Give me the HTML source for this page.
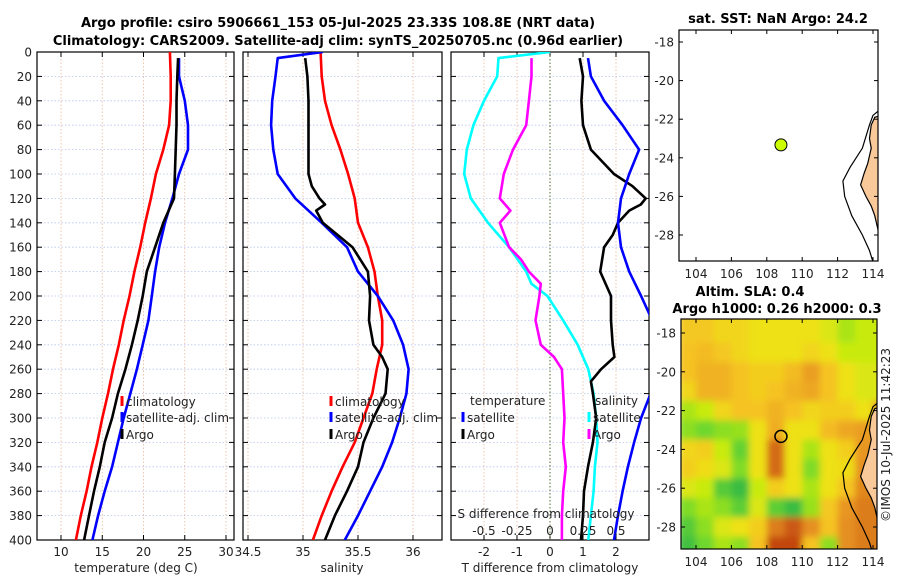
<!DOCTYPE html>
<html><head><meta charset="utf-8"><style>
html,body{margin:0;padding:0;background:#fff;}
svg{display:block;font-family:"DejaVu Sans","Liberation Sans",sans-serif;}
</style></head><body>
<svg id="fig" width="900" height="580" viewBox="0 0 900 580" xmlns="http://www.w3.org/2000/svg">
<defs>
<clipPath id="c1"><rect x="37" y="52" width="197" height="488"/></clipPath>
<clipPath id="c2"><rect x="243" y="52" width="199" height="488"/></clipPath>
<clipPath id="c3"><rect x="451" y="52" width="198" height="488"/></clipPath>
<clipPath id="cm1"><rect x="679" y="30" width="199" height="231"/></clipPath>
<clipPath id="cm2"><rect x="681" y="319" width="196" height="230"/></clipPath>
<filter id="blur" x="-10%" y="-10%" width="120%" height="120%"><feGaussianBlur stdDeviation="3.5"/></filter>
</defs>
<text x="338" y="27" text-anchor="middle" font-size="13" font-weight="bold">Argo profile: csiro 5906661_153 05-Jul-2025 23.33S 108.8E (NRT data)</text>
<text x="338" y="45" text-anchor="middle" font-size="13" font-weight="bold">Climatology: CARS2009. Satellite-adj clim: synTS_20250705.nc (0.96d earlier)</text>
<g id="p1"></g>
<g id="p2"></g>
<g id="p3"></g>
<g id="m1"></g>
<g id="m2"></g>
<text x="890" y="435" text-anchor="middle" font-size="12" fill="#222" transform="rotate(-90 890 435)">©IMOS 10-Jul-2025 11:42:23</text>
</svg>
<script>
// ---------- data ----------
const depthTicks = [0,20,40,60,80,100,120,140,160,180,200,220,240,260,280,300,320,340,360,380,400];
const tTicks = [10,15,20,25,30];
const sTicks = [34.5,35,35.5,36];
const tdTicks = [-2,-1,0,1,2];
const sdTicks = [-0.5,-0.25,0,0.25,0.5];
const sdTickLabels = ["-0.5","-0.25","0","0.25","0.5"];

const climTDepth = [0,20,40,60,80,100,120,140,160,180,200,220,240,260,280,300,320,340,360,380,400];
const climT = [23.2,23.3,23.3,23.1,22.4,21.5,20.9,20.2,19.6,18.9,18.3,17.6,17.0,16.3,15.7,15.0,14.4,13.7,13.1,12.4,11.8];
const satTDepth = [5,20,40,60,80,100,120,140,160,180,200,220,240,260,280,300,320,340,360,380,400];
const satT = [24.3,24.3,25.0,25.4,25.4,24.3,23.5,22.6,21.9,21.4,21.0,20.6,19.9,19.2,18.4,17.6,16.9,16.2,15.3,14.5,13.8];
const argoTDepth = [5,20,40,60,80,100,120,140,160,180,200,220,240,260,280,300,320,340,360,380,400];
const argoT = [24.2,24.1,24.0,24.0,23.9,23.8,23.7,22.4,21.4,20.4,19.9,19.3,18.6,17.8,16.9,16.2,15.3,14.7,14.0,13.4,12.8];

const climSDepth = [0,20,40,60,80,100,120,140,160,180,200,220,240,260,280,300,320,340,360,380,400];
const climS = [35.16,35.17,35.2,35.26,35.34,35.41,35.47,35.5,35.59,35.65,35.68,35.72,35.72,35.67,35.63,35.55,35.47,35.36,35.26,35.17,35.09];
const satSDepth = [0,5,20,40,60,80,100,120,140,160,180,200,220,240,260,280,300,320,340,360,380,400];
const satS = [35.18,34.77,34.75,34.72,34.71,34.73,34.77,34.93,35.17,35.4,35.5,35.68,35.82,35.91,35.96,35.94,35.88,35.81,35.72,35.61,35.5,35.38];
const argoSDepth = [5,20,40,60,80,100,110,120,125,130,140,160,180,200,220,240,250,260,280,300,320,340,360,380,400];
const argoS = [35.02,35.04,35.05,35.05,35.05,35.05,35.08,35.15,35.2,35.12,35.18,35.45,35.59,35.61,35.6,35.64,35.72,35.77,35.75,35.64,35.55,35.5,35.4,35.29,35.2];

const satTdDepth = [5,20,40,60,80,100,120,140,160,180,200,220,240,260,280,300,320,340,360,380,400];
const satTd = [1.15,1.24,1.64,2.2,2.7,2.4,2.15,2.06,2.15,2.4,2.76,3.1,3.3,3.3,3.05,2.76,2.55,2.36,2.2,2.06,1.94];
const argoTdDepth = [5,20,40,60,80,100,110,120,125,130,140,150,160,180,200,220,240,250,260,270,280,300,320,340,360,380,400];
const argoTd = [0.9,1.0,0.95,1.0,1.24,1.94,2.5,2.9,2.75,2.4,2.06,1.9,1.64,1.52,1.85,1.85,1.9,1.95,1.55,1.24,1.3,1.4,1.3,1.15,1.03,1.0,0.94];
const satSdDepth = [0,5,20,40,60,80,100,120,140,160,180,190,200,220,240,260,280,300,320,340,360,380,400];
const satSd = [0.0,-0.39,-0.4,-0.5,-0.58,-0.63,-0.65,-0.6,-0.47,-0.31,-0.18,-0.14,-0.02,0.1,0.21,0.29,0.33,0.35,0.36,0.34,0.33,0.31,0.29];
const argoSdDepth = [5,20,40,60,80,100,120,130,140,160,170,180,190,200,220,240,250,260,280,300,320,340,360,380,400];
const argoSd = [-0.14,-0.14,-0.16,-0.18,-0.28,-0.35,-0.38,-0.3,-0.38,-0.31,-0.22,-0.16,-0.07,-0.08,-0.11,-0.07,0.03,0.09,0.1,0.11,0.1,0.12,0.1,0.09,0.09];

const mapLonTicks = [104,106,108,110,112,114];
const mapLatTicks = [-18,-20,-22,-24,-26,-28];
const argoLon = 108.8, argoLat = -23.33;
const coastLon = [114.5,114.1,113.9,113.8,113.9,113.7,113.5,113.3,113.6,113.9,114.1,114.3,114.4,114.5];
const coastLat = [-21.8,-21.9,-22.3,-23.0,-23.5,-24.3,-24.8,-25.4,-26.0,-26.5,-27.0,-27.8,-28.3,-28.4];
const shelfLon = [114.4,114.0,113.8,113.4,112.7,112.3,112.4,112.8,113.4,113.8,114.0];
const shelfLat = [-21.5,-21.8,-22.3,-23.5,-24.5,-25.2,-26.0,-27.0,-28.0,-28.8,-29.4];
const gridLon = [103.5,104.5,105.5,106.5,107.5,108.5,109.5,110.5,111.5,112.5,113.5,114.5];
const gridLat = [-17,-18,-19,-20,-21,-22,-23,-24,-25,-26,-27,-28,-29,-30];
const slaGrid = [
[0.6,0.6,0.55,0.55,0.5,0.5,0.5,0.5,0.45,0.35,0.4,0.4],
[0.6,0.6,0.55,0.55,0.5,0.5,0.5,0.5,0.45,0.35,0.4,0.4],
[0.62,0.65,0.6,0.55,0.5,0.5,0.5,0.55,0.5,0.4,0.4,0.4],
[0.62,0.68,0.68,0.62,0.58,0.58,0.65,0.75,0.62,0.5,0.45,0.45],
[0.55,0.68,0.68,0.62,0.58,0.62,0.68,0.72,0.62,0.5,0.45,0.45],
[0.35,0.4,0.55,0.62,0.62,0.68,0.62,0.55,0.58,0.58,0.5,0.75],
[0.3,0.25,0.3,0.32,0.5,0.7,0.5,0.5,0.65,0.72,0.75,0.75],
[0.55,0.58,0.4,0.22,0.5,0.9,0.5,0.35,0.5,0.58,0.78,0.78],
[0.58,0.52,0.45,0.28,0.5,0.9,0.5,0.28,0.5,0.52,0.8,0.8],
[0.45,0.4,0.18,0.1,0.4,0.58,0.5,0.35,0.5,0.62,0.82,0.82],
[0.28,0.35,0.3,0.2,0.45,0.2,0.1,0.32,0.6,0.78,0.85,0.85],
[0.18,0.3,0.45,0.5,0.58,0.85,0.95,0.8,0.62,0.8,0.85,0.85],
[0.12,0.25,0.35,0.3,0.62,1.0,1.0,0.62,0.3,0.8,0.85,0.85],
[0.18,0.3,0.4,0.35,0.5,0.4,0.25,0.15,0.05,0.75,0.85,0.85]];

// ---------- helpers ----------
const NS = "http://www.w3.org/2000/svg";
function mk(parent, tag, attrs, text){
  const e = document.createElementNS(NS, tag);
  for (const k in attrs) e.setAttribute(k, attrs[k]);
  if (text !== undefined) e.textContent = text;
  parent.appendChild(e); return e;
}
const Y0 = 52, Y1 = 540;
function yD(d){ return Y0 + (d/400)*(Y1-Y0); }
function scale(d0,d1,r0,r1){ return v => r0 + (v-d0)/(d1-d0)*(r1-r0); }

function panel(g, x0, x1, xs, ticks, labels, clip, showY){
  ticks.forEach(t=>{
    const l = mk(g,'line',{x1:xs(t),x2:xs(t),y1:Y0,y2:Y1,stroke:'#e8b89a','stroke-width':0.8,'stroke-dasharray':'1.5,2'});
    
    
  });
  depthTicks.forEach(d=>{
    const l = mk(g,'line',{x1:x0,x2:x1,y1:yD(d),y2:yD(d),stroke:'#b8c4ee','stroke-width':0.8,'stroke-dasharray':'1.5,2'});
    
    
    mk(g,'line',{x1:x0,x2:x0+5,y1:yD(d),y2:yD(d),stroke:'#000'});
    mk(g,'line',{x1:x1-5,x2:x1,y1:yD(d),y2:yD(d),stroke:'#000'});
    if (showY){
      const t = mk(g,'text',{x:x0-5,y:yD(d)+4.5,'text-anchor':'end','font-size':12,fill:'#222'},String(d));
      
      
    }
  });
  ticks.forEach((t,i)=>{
    mk(g,'line',{x1:xs(t),x2:xs(t),y1:Y1,y2:Y1-5,stroke:'#000'});
    mk(g,'line',{x1:xs(t),x2:xs(t),y1:Y0,y2:Y0+5,stroke:'#000'});
    if (labels){
      const tx = mk(g,'text',{x:xs(t),y:556,'text-anchor':'middle','font-size':12,fill:'#222'},labels[i]);
      
      
    }
  });
  const r = mk(g,'rect',{x:x0,y:Y0,width:x1-x0,height:Y1-Y0,fill:'none',stroke:'#000','stroke-width':1.2});
  
  
}
function series(g, xs, depths, vals, color, clip, name){
  const pts = vals.map((v,i)=>xs(v).toFixed(1)+','+yD(depths[i]).toFixed(1)).join(' ');
  const p = mk(g,'polyline',{points:pts,fill:'none',stroke:color,'stroke-width':2.6,'stroke-linejoin':'round','clip-path':'url(#'+clip+')'});
  
  
}
function legendEntry(g,x,y,color,label,name){
  mk(g,'line',{x1:x,x2:x,y1:y-10,y2:y,stroke:color,'stroke-width':3});
  const t = mk(g,'text',{x:x+4,y:y,'font-size':12,fill:'#222'},label);
  
  
}

// ---------- panel 1 ----------
const p1 = document.getElementById('p1');
const xT = scale(10,30,61,226);
panel(p1,37,234,xT,tTicks,tTicks.map(String),'c1',true);
series(p1,xT,climTDepth,climT,'#ff0000','c1','climatology-temperature-line');
series(p1,xT,satTDepth,satT,'#0000ff','c1','satellite-temperature-line');
series(p1,xT,argoTDepth,argoT,'#000000','c1','argo-temperature-line');
legendEntry(p1,122,406,'#ff0000','climatology','legend-climatology');
legendEntry(p1,122,422,'#0000ff','satellite-adj. clim','legend-satellite');
legendEntry(p1,122,439,'#000000','Argo','legend-argo');
mk(p1,'text',{x:136,y:572,'text-anchor':'middle','font-size':12,fill:'#222'},'temperature (deg C)');

// ---------- panel 2 ----------
const p2 = document.getElementById('p2');
const xS = scale(34.5,36,248,413);
panel(p2,243,442,xS,sTicks,sTicks.map(String),'c2',false);
series(p2,xS,climSDepth,climS,'#ff0000','c2','climatology-salinity-line');
series(p2,xS,satSDepth,satS,'#0000ff','c2','satellite-salinity-line');
series(p2,xS,argoSDepth,argoS,'#000000','c2','argo-salinity-line');
legendEntry(p2,331,406,'#ff0000','climatology','legend-climatology');
legendEntry(p2,331,422,'#0000ff','satellite-adj. clim','legend-satellite');
legendEntry(p2,331,439,'#000000','Argo','legend-argo');
mk(p2,'text',{x:342,y:572,'text-anchor':'middle','font-size':12,fill:'#222'},'salinity');

// ---------- panel 3 ----------
const p3 = document.getElementById('p3');
const xTd = scale(-3,3,451,649);
const xSd = scale(-0.75,0.75,451,649);
panel(p3,451,649,xTd,tdTicks,tdTicks.map(String),'c3',false);
mk(p3,'line',{x1:xTd(0),x2:xTd(0),y1:Y0,y2:Y1,stroke:'#556b2f','stroke-width':1,'stroke-dasharray':'1.5,2'});
series(p3,xSd,satSdDepth,satSd,'#00ffff','c3','salinity-satellite-diff-line');
series(p3,xSd,argoSdDepth,argoSd,'#ff00ff','c3','salinity-argo-diff-line');
series(p3,xTd,argoTdDepth,argoTd,'#000000','c3','temperature-argo-diff-line');
series(p3,xTd,satTdDepth,satTd,'#0000ff','c3','temperature-satellite-diff-line');
mk(p3,'text',{x:470,y:405,'font-size':12,fill:'#222'},'temperature');
legendEntry(p3,463,422,'#0000ff','satellite','legend-temp-satellite');
legendEntry(p3,463,439,'#000000','Argo','legend-temp-argo');
mk(p3,'text',{x:595,y:405,'font-size':12,fill:'#222'},'salinity');
legendEntry(p3,589,422,'#00ffff','satellite','legend-sal-satellite');
legendEntry(p3,589,439,'#ff00ff','Argo','legend-sal-argo');
mk(p3,'text',{x:546,y:518,'text-anchor':'middle','font-size':12,fill:'#222'},'S difference from climatology');
sdTicks.forEach((t,i)=>{
  const tx = mk(p3,'text',{x:xSd(t),y:535,'text-anchor':'middle','font-size':12,fill:'#222'},sdTickLabels[i]);
  
  
});
mk(p3,'text',{x:550,y:572,'text-anchor':'middle','font-size':12,fill:'#222'},'T difference from climatology');

// ---------- maps ----------
const lonX = scale(104,114,696,873);
function mapAxes(g,x0,x1,y0,y1,latY){
  mapLatTicks.forEach(l=>{
    mk(g,'line',{x1:x0,x2:x0+4,y1:latY(l),y2:latY(l),stroke:'#000'});
    mk(g,'line',{x1:x1-4,x2:x1,y1:latY(l),y2:latY(l),stroke:'#000'});
    const t = mk(g,'text',{x:x0-5,y:latY(l)+4.5,'text-anchor':'end','font-size':12,fill:'#222'},String(l));
    
    
  });
  mapLonTicks.forEach(l=>{
    mk(g,'line',{x1:lonX(l),x2:lonX(l),y1:y1,y2:y1-4,stroke:'#000'});
    mk(g,'line',{x1:lonX(l),x2:lonX(l),y1:y0,y2:y0+4,stroke:'#000'});
    const t = mk(g,'text',{x:lonX(l),y:y1+17,'text-anchor':'middle','font-size':12,fill:'#222'},String(l));
    
    
  });
  mk(g,'rect',{x:x0,y:y0,width:x1-x0,height:y1-y0,fill:'none',stroke:'#000','stroke-width':1.2});
}
function coast(g,latY,clip,landFill){
  const shelf = shelfLon.map((l,i)=>lonX(l)+','+latY(shelfLat[i])).join(' ');
  const cst = coastLon.map((l,i)=>lonX(l)+','+latY(coastLat[i])).join(' ');
  mk(g,'polygon',{points:cst+' '+lonX(114.6)+','+latY(-28.4)+' '+lonX(114.6)+','+latY(-21.8),fill:landFill,stroke:'#000','stroke-width':1.2,'clip-path':'url(#'+clip+')'});
  mk(g,'polyline',{points:shelf,fill:'none',stroke:'#000','stroke-width':1.2,'clip-path':'url(#'+clip+')'});
}
// top map
const m1 = document.getElementById('m1');
const latY1 = scale(-18,-28,42,235);
mk(m1,'rect',{x:679,y:30,width:199,height:231,fill:'#fff'});
mk(m1,'text',{x:778,y:23,'text-anchor':'middle','font-size':13,'font-weight':'bold'},'sat. SST: NaN Argo: 24.2');
coast(m1,latY1,'cm1','#f9c999');
const d1 = mk(m1,'circle',{cx:lonX(argoLon),cy:latY1(argoLat),r:6,fill:'#ccff00',stroke:'#000','stroke-width':1});


mapAxes(m1,679,878,30,261,latY1);

// bottom map
const m2 = document.getElementById('m2');
const latY2 = scale(-18,-28,333,527);
mk(m2,'text',{x:750,y:296,'text-anchor':'middle','font-size':13,'font-weight':'bold'},'Altim. SLA: 0.4');
mk(m2,'text',{x:777,y:313,'text-anchor':'middle','font-size':13,'font-weight':'bold'},'Argo h1000: 0.26 h2000: 0.3');
const stops = [[0,[25,170,80]],[0.25,[110,215,45]],[0.4,[200,235,15]],[0.5,[238,225,20]],[0.62,[245,195,35]],[0.78,[232,150,35]],[1,[195,70,15]]];
function cmap(v){
  for (let i=1;i<stops.length;i++){
    if (v<=stops[i][0]){
      const a=stops[i-1], b=stops[i], f=(v-a[0])/(b[0]-a[0]);
      return 'rgb('+a[1].map((c,k)=>Math.round(c+(b[1][k]-c)*f)).join(',')+')';
    }
  }
  return 'rgb(195,70,15)';
}
const cg = mk(m2,'g',{'clip-path':'url(#cm2)'});
const hg = mk(cg,'g',{filter:'url(#blur)'});
const cw = lonX(105)-lonX(104), ch = latY2(-19)-latY2(-18);
slaGrid.forEach((row,r)=>row.forEach((v,c)=>{
  const cell = mk(hg,'rect',{x:lonX(gridLon[c])-cw/2,y:latY2(gridLat[r])-ch/2,width:cw+0.5,height:ch+0.5,fill:cmap(v)});
  
  
}));
coast(m2,latY2,'cm2','#f9c999');
const d2 = mk(m2,'circle',{cx:lonX(argoLon),cy:latY2(argoLat),r:6,fill:'none',stroke:'#000','stroke-width':1.5});


mapAxes(m2,681,877,319,549,latY2);
</script>
</body></html>
